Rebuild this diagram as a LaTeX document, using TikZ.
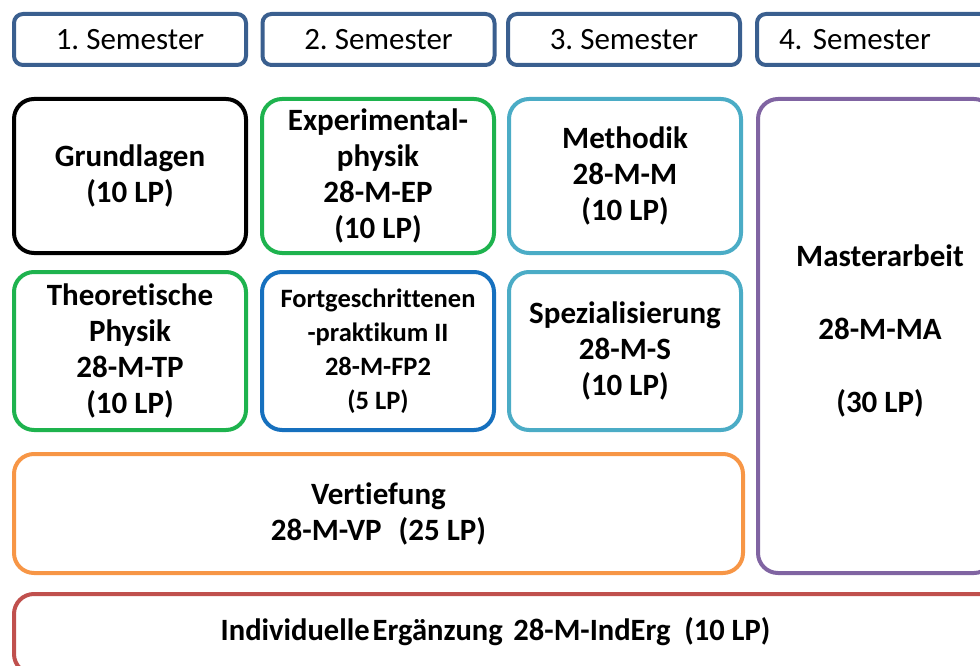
\documentclass[tikz,border=0pt]{standalone}
\usepackage{fontspec}
\setmainfont{Carlito}[Ligatures=NoCommon]
\frenchspacing
\definecolor{semblue}{HTML}{3A5F8F}
\definecolor{mgreen}{HTML}{1EB34E}
\definecolor{mcyan}{HTML}{4BACC6}
\definecolor{mblue}{HTML}{1670BE}
\definecolor{mpurple}{HTML}{8064A2}
\definecolor{morange}{HTML}{F79646}
\definecolor{mred}{HTML}{C0504D}
\begin{document}
\begin{tikzpicture}[x=1pt,y=-1pt,
  semester/.style={draw=semblue, line width=4pt, rounded corners=9pt, inner sep=0pt,
    minimum width=232pt, minimum height=51pt, font=\fontsize{31}{34}\selectfont},
  modbox/.style={line width=4pt, rounded corners=20pt, inner sep=0pt, align=center,
    font=\bfseries\fontsize{31}{36}\selectfont},
  colbox/.style={modbox, minimum width=232pt},
  label text/.style={inner sep=0pt, align=center, font=\bfseries\fontsize{31}{36}\selectfont}
]
\useasboundingbox (0,0) rectangle (980,666);
\clip (0,0) rectangle (980,666);
% semester headers
\node[semester] (s1) at (130,39.5) {1. Semester};
\node[semester] (s2) at (378.5,39.5) {2. Semester};
\node[semester] (s3) at (624,39.5) {3. Semester};
\node[semester, text width=220pt, align=left] (s4) at (873,39.5) {\hspace{16pt}4. Semester};
% row 1
\node[colbox, draw=black, minimum height=154pt] (grund) at (130,176) {Grundlagen\\(10 LP)};
\node[colbox, draw=mgreen, minimum height=154pt] (exp) at (378,176) {Experimental-\\physik\\28-M-EP\\(10 LP)};
\node[colbox, draw=mcyan, minimum height=154pt] (meth) at (625,176) {Methodik\\28-M-M\\(10 LP)};
% master
\node[modbox, draw=mpurple, minimum width=236pt, minimum height=474pt] (ma) at (876,336) {};
\node[label text] (matext) at (880,331) {Masterarbeit\\[37pt]28-M-MA\\[37pt](30 LP)};
% row 2
\node[colbox, draw=mgreen, minimum height=158pt] (theo) at (130,351) {Theoretische\\Physik\\28-M-TP\\(10 LP)};
\node[colbox, draw=mblue, minimum height=158pt, font=\bfseries\fontsize{26.5}{34}\selectfont] (fp) at (378,351) {Fortgeschrittenen\\-praktikum II\\28-M-FP2\\(5 LP)};
\node[colbox, draw=mcyan, minimum height=158pt] (spez) at (625,351) {Spezialisierung\\28-M-S\\(10 LP)};
% Vertiefung
\node[modbox, draw=morange, minimum width=729pt, minimum height=119pt] (vert) at (378.5,513.5) {Vertiefung\\28-M-VP\hspace{0.55em}(25 LP)};
% Individuelle Ergaenzung
\node[modbox, draw=mred, minimum width=984pt, minimum height=80pt] (ind) at (506,634) {};
\node[label text] (indtext) at (495.5,632)
  {\scalebox{0.985}[1]{Individuelle\hspace{0.1em}Ergänzung\hspace{0.35em}28-M-IndErg\hspace{0.45em}(10 LP)}};
\end{tikzpicture}
\end{document}
